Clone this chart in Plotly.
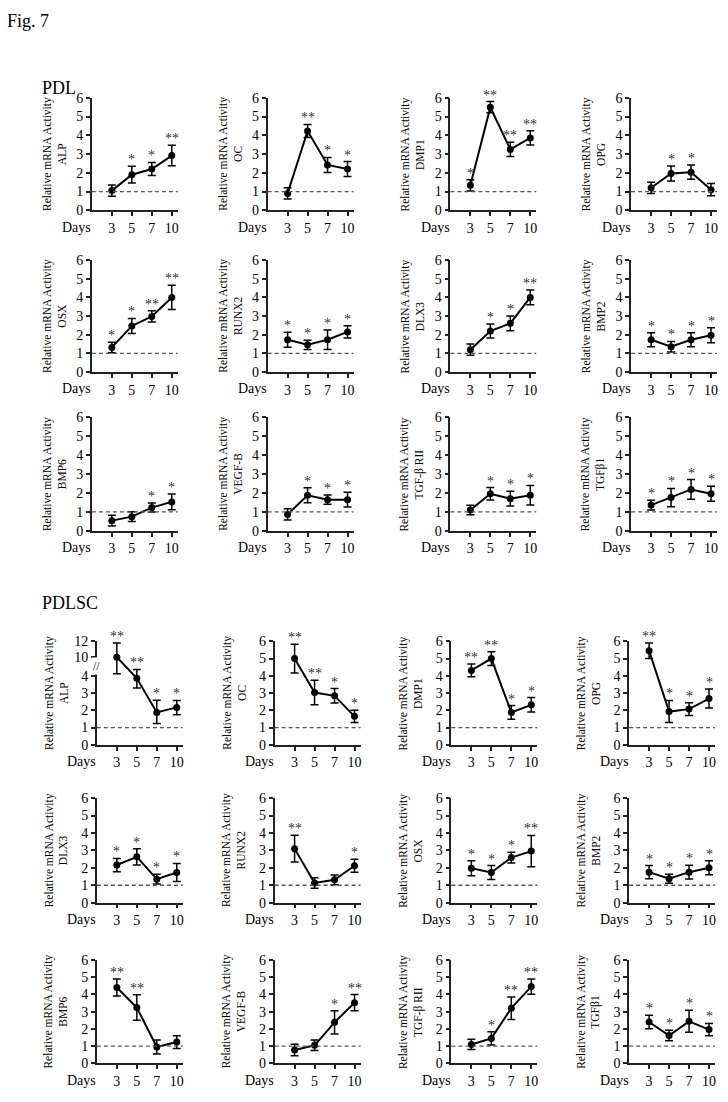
import plotly.graph_objects as go

W, H = 728, 1102          # target page size
OX, OY = 8, 8             # default body margin of the html page
FW, FH = W - OX, H - OY   # figure size
days = ["3", "5", "7", "10"]

# ---------------- PDL (values, symmetric error, significance) ----------------
pdl_alp = [1.05, 1.9, 2.2, 2.92]
pdl_alp_err = [0.3, 0.45, 0.35, 0.55]
pdl_alp_sig = ["", "*", "*", "**"]

pdl_oc = [0.9, 4.23, 2.42, 2.2]
pdl_oc_err = [0.3, 0.35, 0.4, 0.4]
pdl_oc_sig = ["", "**", "*", "*"]

pdl_dmp1 = [1.33, 5.5, 3.25, 3.86]
pdl_dmp1_err = [0.3, 0.3, 0.38, 0.38]
pdl_dmp1_sig = ["*", "**", "**", "**"]

pdl_opg = [1.2, 1.96, 2.03, 1.1]
pdl_opg_err = [0.3, 0.4, 0.38, 0.33]
pdl_opg_sig = ["", "*", "*", ""]

pdl_osx = [1.32, 2.47, 2.98, 4.0]
pdl_osx_err = [0.28, 0.4, 0.3, 0.65]
pdl_osx_sig = ["*", "*", "**", "**"]

pdl_runx2 = [1.73, 1.46, 1.73, 2.15]
pdl_runx2_err = [0.4, 0.25, 0.52, 0.33]
pdl_runx2_sig = ["*", "*", "*", "*"]

pdl_dlx3 = [1.2, 2.2, 2.61, 4.0]
pdl_dlx3_err = [0.3, 0.38, 0.4, 0.4]
pdl_dlx3_sig = ["", "*", "*", "**"]

pdl_bmp2 = [1.73, 1.36, 1.73, 1.97]
pdl_bmp2_err = [0.37, 0.28, 0.37, 0.4]
pdl_bmp2_sig = ["*", "*", "*", "*"]

pdl_bmp6 = [0.54, 0.75, 1.23, 1.53]
pdl_bmp6_err = [0.28, 0.26, 0.24, 0.42]
pdl_bmp6_sig = ["", "", "*", "*"]

pdl_vegfb = [0.87, 1.88, 1.65, 1.65]
pdl_vegfb_err = [0.3, 0.4, 0.24, 0.39]
pdl_vegfb_sig = ["", "*", "*", "*"]

pdl_tgfbr2 = [1.1, 1.96, 1.7, 1.88]
pdl_tgfbr2_err = [0.25, 0.33, 0.39, 0.52]
pdl_tgfbr2_sig = ["", "*", "*", "*"]

pdl_tgfb1 = [1.36, 1.76, 2.19, 1.96]
pdl_tgfb1_err = [0.26, 0.48, 0.52, 0.4]
pdl_tgfb1_sig = ["*", "*", "*", "*"]

# ---------------- PDLSC ----------------
pdlsc_alp = [10.0, 3.86, 1.88, 2.17]
pdlsc_alp_err_up = [1.8, 2.2, 0.7, 0.4]
pdlsc_alp_err_down = [5.3, 0.57, 0.65, 0.42]
pdlsc_alp_sig = ["**", "**", "*", "*"]
alp_tickvals = [0, 1, 2, 3, 4, 10, 12]

pdlsc_oc = [5.0, 3.03, 2.84, 1.65]
pdlsc_oc_err = [0.83, 0.71, 0.42, 0.35]
pdlsc_oc_sig = ["**", "**", "*", "*"]

pdlsc_dmp1 = [4.31, 5.0, 1.88, 2.32]
pdlsc_dmp1_err = [0.37, 0.4, 0.4, 0.42]
pdlsc_dmp1_sig = ["**", "**", "*", "*"]

pdlsc_opg = [5.45, 1.93, 2.07, 2.68]
pdlsc_opg_err = [0.45, 0.64, 0.37, 0.55]
pdlsc_opg_sig = ["**", "*", "*", "*"]

pdlsc_dlx3 = [2.16, 2.63, 1.35, 1.73]
pdlsc_dlx3_err = [0.38, 0.47, 0.28, 0.52]
pdlsc_dlx3_sig = ["*", "*", "*", "*"]

pdlsc_runx2 = [3.1, 1.13, 1.31, 2.12]
pdlsc_runx2_err = [0.77, 0.3, 0.28, 0.37]
pdlsc_runx2_sig = ["**", "", "", "*"]

pdlsc_osx = [1.97, 1.73, 2.59, 2.96]
pdlsc_osx_err = [0.43, 0.4, 0.31, 0.9]
pdlsc_osx_sig = ["*", "*", "*", "**"]

pdlsc_bmp2 = [1.75, 1.37, 1.75, 2.0]
pdlsc_bmp2_err = [0.38, 0.26, 0.39, 0.4]
pdlsc_bmp2_sig = ["*", "*", "*", "*"]

pdlsc_bmp6 = [4.4, 3.24, 0.95, 1.24]
pdlsc_bmp6_err = [0.49, 0.74, 0.41, 0.37]
pdlsc_bmp6_sig = ["**", "**", "", ""]

pdlsc_vegfb = [0.78, 1.05, 2.38, 3.52]
pdlsc_vegfb_err = [0.33, 0.3, 0.67, 0.47]
pdlsc_vegfb_sig = ["", "", "*", "**"]

pdlsc_tgfbr2 = [1.1, 1.45, 3.2, 4.45]
pdlsc_tgfbr2_err = [0.3, 0.39, 0.65, 0.44]
pdlsc_tgfbr2_sig = ["", "*", "**", "**"]

pdlsc_tgfb1 = [2.4, 1.62, 2.44, 1.96]
pdlsc_tgfb1_err = [0.39, 0.3, 0.64, 0.36]
pdlsc_tgfb1_sig = ["*", "*", "*", "*"]

pdl_panels = [
    ("ALP", pdl_alp, pdl_alp_err, pdl_alp_err, pdl_alp_sig),
    ("OC", pdl_oc, pdl_oc_err, pdl_oc_err, pdl_oc_sig),
    ("DMP1", pdl_dmp1, pdl_dmp1_err, pdl_dmp1_err, pdl_dmp1_sig),
    ("OPG", pdl_opg, pdl_opg_err, pdl_opg_err, pdl_opg_sig),
    ("OSX", pdl_osx, pdl_osx_err, pdl_osx_err, pdl_osx_sig),
    ("RUNX2", pdl_runx2, pdl_runx2_err, pdl_runx2_err, pdl_runx2_sig),
    ("DLX3", pdl_dlx3, pdl_dlx3_err, pdl_dlx3_err, pdl_dlx3_sig),
    ("BMP2", pdl_bmp2, pdl_bmp2_err, pdl_bmp2_err, pdl_bmp2_sig),
    ("BMP6", pdl_bmp6, pdl_bmp6_err, pdl_bmp6_err, pdl_bmp6_sig),
    ("VEGF-B", pdl_vegfb, pdl_vegfb_err, pdl_vegfb_err, pdl_vegfb_sig),
    ("TGF-β RII", pdl_tgfbr2, pdl_tgfbr2_err, pdl_tgfbr2_err, pdl_tgfbr2_sig),
    ("TGFβ1", pdl_tgfb1, pdl_tgfb1_err, pdl_tgfb1_err, pdl_tgfb1_sig),
]
pdlsc_panels = [
    ("ALP", pdlsc_alp, pdlsc_alp_err_up, pdlsc_alp_err_down, pdlsc_alp_sig),
    ("OC", pdlsc_oc, pdlsc_oc_err, pdlsc_oc_err, pdlsc_oc_sig),
    ("DMP1", pdlsc_dmp1, pdlsc_dmp1_err, pdlsc_dmp1_err, pdlsc_dmp1_sig),
    ("OPG", pdlsc_opg, pdlsc_opg_err, pdlsc_opg_err, pdlsc_opg_sig),
    ("DLX3", pdlsc_dlx3, pdlsc_dlx3_err, pdlsc_dlx3_err, pdlsc_dlx3_sig),
    ("RUNX2", pdlsc_runx2, pdlsc_runx2_err, pdlsc_runx2_err, pdlsc_runx2_sig),
    ("OSX", pdlsc_osx, pdlsc_osx_err, pdlsc_osx_err, pdlsc_osx_sig),
    ("BMP2", pdlsc_bmp2, pdlsc_bmp2_err, pdlsc_bmp2_err, pdlsc_bmp2_sig),
    ("BMP6", pdlsc_bmp6, pdlsc_bmp6_err, pdlsc_bmp6_err, pdlsc_bmp6_sig),
    ("VEGF-B", pdlsc_vegfb, pdlsc_vegfb_err, pdlsc_vegfb_err, pdlsc_vegfb_sig),
    ("TGF-β RII", pdlsc_tgfbr2, pdlsc_tgfbr2_err, pdlsc_tgfbr2_err, pdlsc_tgfbr2_sig),
    ("TGFβ1", pdlsc_tgfb1, pdlsc_tgfb1_err, pdlsc_tgfb1_err, pdlsc_tgfb1_sig),
]


def broken(v):
    """Broken-axis display transform (0-4 linear, 4-10 compressed, 10-12)."""
    if v <= 4:
        return v
    if v <= 10:
        return 4 + (v - 4) * (1.08 / 6)
    return 5.08 + (v - 10) * 0.46


def ident(v):
    return v


def px(x):
    return (x - OX) / FW


def py(y):
    return 1 - (y - OY) / FH


# layout geometry (page pixels)
groups = [
    (pdl_panels, [92, 268, 451, 632], [(206, 92), (370, 256.5), (531, 416)], 38),
    (pdlsc_panels, [97, 275, 452, 630], [(748, 643), (908, 802), (1071, 966)], 41),
]
PW = 86
SERIF = "Liberation Serif"
AX = "#222"

fig = go.Figure()
layout = {}
annotations = []
shapes = []
k = 0
for gi, (panels, cols, rows, toff) in enumerate(groups):
    for pi, (gene, vals, eu, ed, sig) in enumerate(panels):
        k += 1
        r, c = divmod(pi, 4)
        x0 = cols[c]
        y0, y6 = rows[r]
        is_broken = (gi == 1 and gene == "ALP")
        f = broken if is_broken else ident
        ys = [f(v) for v in vals]
        up = [f(v + e) - f(v) for v, e in zip(vals, eu)]
        dn = [f(v) - f(v - e) for v, e in zip(vals, ed)]
        xn = "x" if k == 1 else f"x{k}"
        yn = "y" if k == 1 else f"y{k}"
        fig.add_trace(go.Scatter(
            x=days, y=ys, xaxis=xn, yaxis=yn, mode="lines+markers",
            line=dict(color="black", width=2),
            marker=dict(color="black", size=7),
            error_y=dict(type="data", symmetric=False, array=up, arrayminus=dn,
                         color="black", thickness=1.5, width=4),
            cliponaxis=False, showlegend=False, hoverinfo="skip"))
        if is_broken:
            tv = [f(t) for t in alp_tickvals]
            tt = [str(t) for t in alp_tickvals]
        else:
            tv = [0, 1, 2, 3, 4, 5, 6]
            tt = [str(t) for t in tv]
        layout["xaxis" if k == 1 else f"xaxis{k}"] = dict(
            domain=[px(x0), px(x0 + PW)], anchor=yn, type="category",
            range=[-1, 3.3], showline=True, linecolor=AX, linewidth=1.5,
            ticks="outside", ticklen=4, tickwidth=1.5, tickcolor=AX,
            showgrid=False, zeroline=False,
            tickfont=dict(family=SERIF, size=14, color="black"))
        layout["yaxis" if k == 1 else f"yaxis{k}"] = dict(
            domain=[py(y0), py(y6)], anchor=xn, range=[0, 6],
            tickvals=tv, ticktext=tt, showline=True, linecolor=AX, linewidth=1.5,
            ticks="outside", ticklen=4, tickwidth=1.5, tickcolor=AX,
            showgrid=False, zeroline=False,
            tickfont=dict(family=SERIF, size=14, color="black"))
        # reference line at 1
        shapes.append(dict(type="line", xref=f"{xn} domain", x0=0, x1=1,
                           yref=yn, y0=1, y1=1,
                           line=dict(color="#555", width=1.3, dash="4px,3px")))
        # significance stars (category index positions)
        for i, (yv, u, s) in enumerate(zip(ys, up, sig)):
            if s:
                annotations.append(dict(x=i, y=yv + u, xref=xn, yref=yn, text=s,
                                        showarrow=False, yanchor="bottom", yshift=-3,
                                        font=dict(family=SERIF, size=14, color="#333")))
        # y title (two lines)
        annotations.append(dict(
            x=px(x0 - toff), y=py((y0 + y6) / 2), xref="paper", yref="paper",
            text=f"Relative mRNA Activity<br>{gene}", textangle=-90, showarrow=False,
            xanchor="center", yanchor="middle",
            font=dict(family=SERIF, size=11.5, color="black")))
        # "Days" label
        annotations.append(dict(
            x=px(x0 - 15), y=py(y0 + 17), xref="paper", yref="paper",
            text="Days", showarrow=False, xanchor="center", yanchor="middle",
            font=dict(family=SERIF, size=14, color="black")))
        if is_broken:
            annotations.append(dict(
                x=0, y=4.55, xref=f"{xn} domain", yref=yn, text="//", showarrow=False,
                xanchor="center", yanchor="middle", bgcolor="white",
                font=dict(family=SERIF, size=12, color="black")))

annotations.append(dict(x=px(5), y=py(14), xref="paper", yref="paper", text="Fig. 7",
                        showarrow=False, xanchor="left", yanchor="middle",
                        font=dict(family=SERIF, size=18, color="black")))
annotations.append(dict(x=px(40), y=py(82), xref="paper", yref="paper", text="PDL",
                        showarrow=False, xanchor="left", yanchor="middle",
                        font=dict(family=SERIF, size=18, color="black")))
annotations.append(dict(x=px(40), y=py(604), xref="paper", yref="paper", text="PDLSC",
                        showarrow=False, xanchor="left", yanchor="middle",
                        font=dict(family=SERIF, size=18, color="black")))

fig.update_layout(width=FW, height=FH, autosize=False,
                  margin=dict(l=0, r=0, t=0, b=0),
                  paper_bgcolor="white", plot_bgcolor="white",
                  annotations=annotations, shapes=shapes, **layout)
fig.write_html("out.html")
